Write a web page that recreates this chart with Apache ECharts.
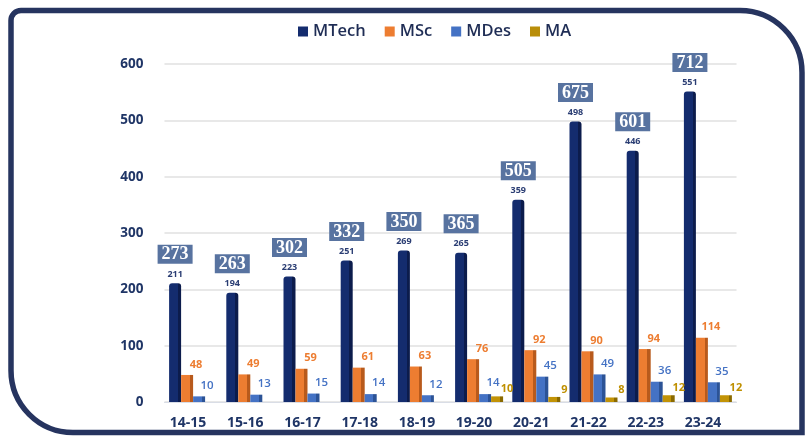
<!DOCTYPE html>
<html>
<head>
<meta charset="utf-8">
<script src="https://cdn.jsdelivr.net/npm/echarts@6/dist/echarts.min.js"></script>
<style>
html,body{margin:0;padding:0;background:#fff;}
#chart{width:805px;height:436px;}
</style>
</head>
<body>
<div id="chart"></div>
<script>
var categories = ['14-15','15-16','16-17','17-18','18-19','19-20','20-21','21-22','22-23','23-24'];
var mtech = [211,194,223,251,269,265,359,498,446,551];
var msc = [48,49,59,61,63,76,92,90,94,114];
var mdes = [10,13,15,14,12,14,45,49,36,35];
var ma = [null,null,null,null,null,10,9,8,12,12];
var totals = [273,263,302,332,350,365,505,675,601,712];
var yTicks = [0,100,200,300,400,500,600];

function grad(c1, c2) {
  return new echarts.graphic.LinearGradient(0,0,1,0,[
    {offset:0,color:c1},{offset:0.72,color:c1},{offset:0.72,color:c2},{offset:1,color:c2}
  ]);
}

var chart = echarts.init(document.getElementById('chart'));
var sans = 'Open Sans';
chart.setOption({
  animation: false,
  backgroundColor: '#ffffff',
  graphic: [{
    type: 'rect',
    shape: {x: 11, y: 10.5, width: 791, height: 422, r: [10, 62, 0, 62]},
    style: {fill: 'none', stroke: '#26345f', lineWidth: 5.5},
    z: 100
  }],
  legend: {
    top: 18, left: 293,
    itemWidth: 10, itemHeight: 10, itemGap: 19,
    icon: 'rect',
    textStyle: {fontFamily: sans, fontSize: 16.5, fontWeight: 600, color: '#1f2d55'},
    data: [
      {name: 'MTech', itemStyle: {color: '#142c6e'}},
      {name: 'MSc', itemStyle: {color: '#ed7d31'}},
      {name: 'MDes', itemStyle: {color: '#4472c4'}},
      {name: 'MA', itemStyle: {color: '#b98e0a'}}
    ]
  },
  grid: {left: 164.5, right: 68.5, top: 64, bottom: 34},
  xAxis: {
    type: 'category',
    data: categories,
    axisTick: {show: false},
    axisLine: {lineStyle: {color: '#d9dde6', width: 1}},
    axisLabel: {fontFamily: sans, fontSize: 14, fontWeight: 700, color: '#1f3566', margin: 14, padding: [0,10,0,0]}
  },
  yAxis: {
    type: 'value',
    min: yTicks[0], max: yTicks[yTicks.length-1], interval: 100,
    axisLine: {show: false},
    axisTick: {show: false},
    splitLine: {lineStyle: {color: '#e0e0e0', width: 1.5}},
    axisLabel: {fontFamily: sans, fontSize: 13.5, fontWeight: 700, color: '#1f3566', margin: 21, padding: [11,0,0,0]}
  },
  series: [
    {
      name: 'MTech', type: 'bar', data: mtech, barWidth: 12, barGap: '0%',
      itemStyle: {color: grad('#142c6e', '#0c1c4c'), borderRadius: [3,3,0,0]},
      label: {
        show: true, position: 'top', distance: 3,
        formatter: function (p) { return '{t|' + totals[p.dataIndex] + '}\n{g| }\n{v|' + p.value + '}'; },
        rich: {
          t: {fontFamily: 'Liberation Serif', fontWeight: 700, fontSize: 18, color: '#ffffff',
              backgroundColor: '#5873a0', padding: [1,4,0,4], lineHeight: 18, height: 18},
          g: {fontSize: 1, lineHeight: 5, height: 5},
          v: {fontFamily: sans, fontWeight: 700, fontSize: 9, color: '#2a3d73', lineHeight: 12}
        }
      }
    },
    {
      name: 'MSc', type: 'bar', data: msc, barWidth: 12,
      itemStyle: {color: grad('#ed7d31', '#b85a1c')},
      label: {show: true, position: 'top', distance: 5, offset: [9, 0],
        fontFamily: sans, fontWeight: 700, fontSize: 11, color: '#ed7d31'}
    },
    {
      name: 'MDes', type: 'bar', data: mdes, barWidth: 12,
      itemStyle: {color: grad('#4472c4', '#2c5396')},
      label: {show: true, position: 'top', distance: 5, offset: [8, 0],
        fontFamily: sans, fontWeight: 600, fontSize: 11.5, color: '#4472c4'}
    },
    {
      name: 'MA', type: 'bar', data: ma, barWidth: 12,
      itemStyle: {color: grad('#c29306', '#8a6a00')},
      label: {show: true, position: 'top', distance: 5, offset: [10, 3],
        fontFamily: sans, fontWeight: 700, fontSize: 11, color: '#bf9000'}
    }
  ]
});
</script>
</body>
</html>
